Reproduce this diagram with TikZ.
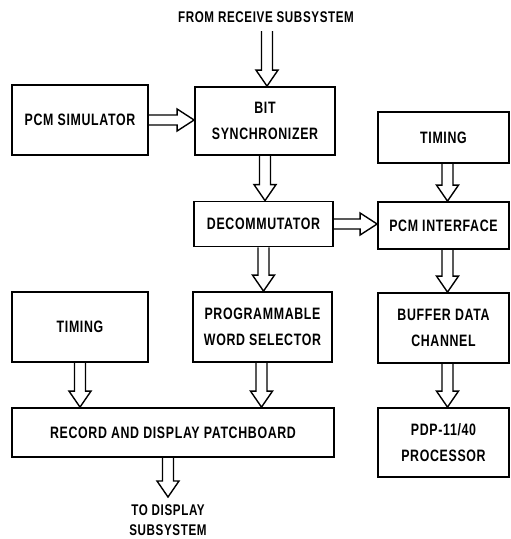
\documentclass[tikz,border=0pt]{standalone}
\usepackage{fontspec}
\newfontfamily\diagfont{Liberation Sans}[FakeStretch=0.75, LetterSpace=4]
\usetikzlibrary{calc}

% hollow block arrow pointing down, from #1 (top) to #2 (tip)
\newcommand\fatdown[2]{%
  \draw[fat] ($(#1)+(-5.5,0)$) -- ($(#2)+(-5.5,-16)$) -- ($(#2)+(-11,-16)$)
    -- (#2) -- ($(#2)+(11,-16)$) -- ($(#2)+(5.5,-16)$) -- ($(#1)+(5.5,0)$);}
% hollow block arrow pointing right, from #1 (left) to #2 (tip)
\newcommand\fatright[2]{%
  \draw[fat] ($(#1)+(0,-5)$) -- ($(#2)+(-17,-5)$) -- ($(#2)+(-17,-11)$)
    -- (#2) -- ($(#2)+(-17,11)$) -- ($(#2)+(-17,5)$) -- ($(#1)+(0,5)$);}

\begin{document}
\begin{tikzpicture}[x=1pt,y=-1pt,
  blk/.style={draw, line width=1.8pt, inner sep=0pt, align=center,
    font=\diagfont\bfseries\fontsize{16.5}{26}\selectfont},
  lbl/.style={inner sep=0pt, align=center,
    font=\diagfont\bfseries\fontsize{15.5}{20}\selectfont},
  fat/.style={line width=1.4pt, line join=miter}]
\useasboundingbox (0,0) rectangle (511,539);

% blocks
\node[blk, minimum width=136pt, minimum height=70pt] (ps) at (80,120) {PCM SIMULATOR};
\node[blk, minimum width=140pt, minimum height=68pt] (bs) at (265,121) {BIT\\SYNCHRONIZER};
\node[blk, minimum width=131pt, minimum height=51pt] (tr) at (443.5,137.5) {TIMING};
\node[blk, minimum width=139pt, minimum height=45pt] (dc) at (263.5,224) {DECOMMUTATOR};
\node[blk, minimum width=131pt, minimum height=47pt] (pi) at (443.5,225.5) {PCM INTERFACE};
\node[blk, minimum width=136pt, minimum height=70pt] (tl) at (80,327) {TIMING};
\node[blk, minimum width=139pt, minimum height=70pt] (pw) at (262.5,327) {PROGRAMMABLE\\WORD SELECTOR};
\node[blk, minimum width=131pt, minimum height=70pt] (bd) at (443.5,328) {BUFFER DATA\\CHANNEL};
\node[blk, minimum width=322pt, minimum height=49pt] (pb) at (173,432.5) {RECORD AND DISPLAY PATCHBOARD};
\node[blk, minimum width=131pt, minimum height=69pt] (pdp) at (443.5,442.5) {PDP-11/40\\PROCESSOR};

% external labels
\node[lbl] (from) at (266,17.5) {FROM RECEIVE SUBSYSTEM};
\node[lbl] (to) at (168,520) {TO DISPLAY\\SUBSYSTEM};

% arrow end points
\coordinate (src) at (267,31);
\coordinate (srcE) at (src |- bs.north);
\coordinate (psE) at (ps.east -| bs.west);
\coordinate (bsE) at (bs.south |- dc.north);
\coordinate (dcE) at (dc.east -| pi.west);
\coordinate (trS) at ($(tr.south)+(4,0)$);
\coordinate (trE) at (trS |- pi.north);
\coordinate (dcS) at (dc.south);
\coordinate (dcSE) at (dc.south |- pw.north);
\coordinate (piS) at ($(pi.south)+(4,0)$);
\coordinate (piSE) at (piS |- bd.north);
\coordinate (tlE) at (tl.south |- pb.north);
\coordinate (pwS) at ($(pw.south)+(-1,0)$);
\coordinate (pwE) at (pwS |- pb.north);
\coordinate (bdS) at ($(bd.south)+(4,0)$);
\coordinate (bdE) at (bdS |- pdp.north);
\coordinate (pbS) at ($(pb.south)+(-5,0)$);
\coordinate (dst) at (168,497);

% arrows
\fatdown{src}{srcE}
\fatright{ps.east}{psE}
\fatdown{bs.south}{bsE}
\fatdown{trS}{trE}
\fatright{dc.east}{dcE}
\fatdown{dcS}{dcSE}
\fatdown{piS}{piSE}
\fatdown{tl.south}{tlE}
\fatdown{pwS}{pwE}
\fatdown{bdS}{bdE}
\fatdown{pbS}{dst}
\end{tikzpicture}
\end{document}
